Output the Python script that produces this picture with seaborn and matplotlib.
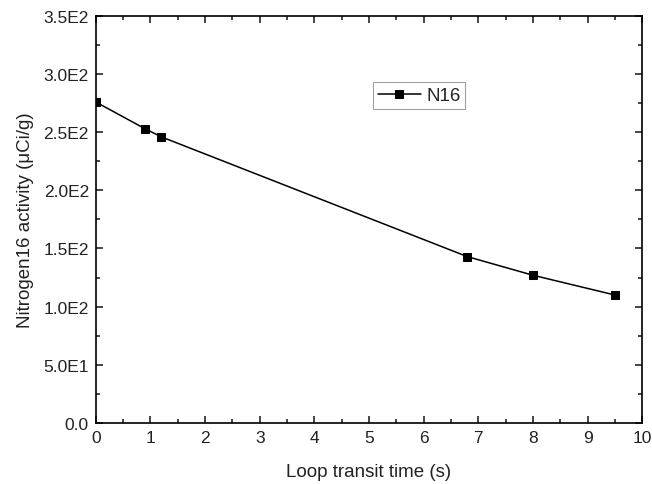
import matplotlib
matplotlib.use('Agg')
import matplotlib.pyplot as plt
from matplotlib.ticker import MultipleLocator
import seaborn as sns
import pandas as pd

transit_time = [0.0, 0.9, 1.2, 6.8, 8.0, 9.5]
n16_activity = [276, 253, 246, 143, 127, 110]
y_ticks = [0, 50, 100, 150, 200, 250, 300, 350]
y_labels = ['0.0', '5.0E1', '1.0E2', '1.5E2', '2.0E2', '2.5E2', '3.0E2', '3.5E2']

df = pd.DataFrame({'time': transit_time, 'activity': n16_activity, 'series': 'N16'})

sns.set_style('ticks')
plt.rcParams['font.family'] = ['Liberation Sans', 'DejaVu Sans']

fig = plt.figure(figsize=(6.52, 4.85), dpi=100)
ax = fig.add_axes([0.147, 0.126, 0.838, 0.839])

sns.lineplot(data=df, x='time', y='activity', hue='series', palette=['black'],
             marker='s', markersize=6, markeredgecolor='black', linewidth=1.1, ax=ax)

ax.set_xlim(0, 10)
ax.set_ylim(0, 350)
ax.xaxis.set_major_locator(MultipleLocator(1))
ax.xaxis.set_minor_locator(MultipleLocator(0.5))
ax.set_yticks(y_ticks)
ax.set_yticklabels(y_labels)
ax.yaxis.set_minor_locator(MultipleLocator(25))
ax.tick_params(which='both', direction='in', top=True, right=True, labelsize=12.5,
               width=1.2, labelcolor='#222222')
ax.tick_params(which='major', length=5)
ax.tick_params(which='minor', length=3)
ax.tick_params(axis='x', pad=5)
ax.tick_params(axis='y', pad=5)
for sp in ax.spines.values():
    sp.set_linewidth(1.2)
    sp.set_color('black')

ax.set_xlabel('Loop transit time (s)', fontsize=13.5, labelpad=13, color='#222222')
ax.set_ylabel('Nitrogen16 activity (\u03bcCi/g)', fontsize=13.5, labelpad=7, color='#222222')

leg = ax.legend(loc='upper left', bbox_to_anchor=(0.49, 0.86), fontsize=13.5,
                frameon=True, fancybox=False, edgecolor='#888888', handlelength=2.3,
                borderpad=0.25, handletextpad=0.3, title=None)
leg.get_frame().set_linewidth(0.8)

fig.savefig('out.png', dpi=100)
